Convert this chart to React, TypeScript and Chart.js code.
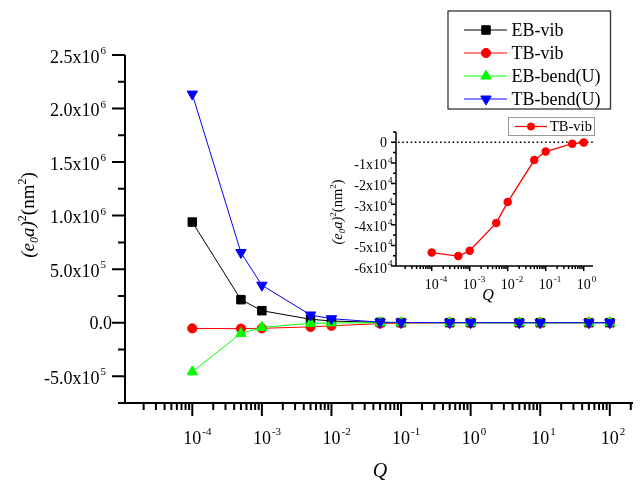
import React, { useEffect, useRef } from 'react';
import { Chart, registerables } from 'chart.js';

Chart.register(...registerables);

const FONT = '"Liberation Serif", "Times New Roman", serif';

// ---------- data ----------
const qValues = [1e-4, 5e-4, 1e-3, 5e-3, 1e-2, 5e-2, 1e-1, 5e-1, 1, 5, 10, 50, 100];
const ebVib = [9.4e5, 2.15e5, 1.12e5, 3.2e4, 1.6e4, 2.5e3, 1.2e3, 300, 150, 30, 15, 3, 1];
const tbVib = [-5.35e4, -5.52e4, -5.26e4, -3.91e4, -2.9e4, -8.6e3, -4.5e3, -700, -150, -30, -15, -3, -1];
const ebBend = [-4.59e5, -1.0e5, -4.4e4, -6e3, -2.5e3, -300, -150, -30, -15, -3, -1.5, -0.3, -0.1];
const tbBend = [2.135e6, 6.55e5, 3.5e5, 7.2e4, 3.7e4, 5e3, 2.5e3, 400, 200, 40, 20, 4, 2];

const insetQ = [1e-4, 5e-4, 1e-3, 5e-3, 1e-2, 5e-2, 1e-1, 5e-1, 1];
const insetTbVib = [-5.35e4, -5.52e4, -5.26e4, -3.91e4, -2.9e4, -8.6e3, -4.5e3, -700, -150];

const seriesLabels = ['EB-vib', 'TB-vib', 'EB-bend(U)', 'TB-bend(U)'];

const mainYMajor = [-5e5, 0, 5e5, 1e6, 1.5e6, 2e6, 2.5e6];
const mainYLabels = ['-5.0x10^5', '0.0', '5.0x10^5', '1.0x10^6', '1.5x10^6', '2.0x10^6', '2.5x10^6'];
const mainYMinor = [-7.5e5, -2.5e5, 2.5e5, 7.5e5, 1.25e6, 1.75e6, 2.25e6];
const mainXMajor = [1e-4, 1e-3, 1e-2, 1e-1, 1, 10, 100];
const mainXLabels = ['10^-4', '10^-3', '10^-2', '10^-1', '10^0', '10^1', '10^2'];

const insetYMajor = [0, -1e4, -2e4, -3e4, -4e4, -5e4, -6e4];
const insetYLabels = ['0', '-1x10^4', '-2x10^4', '-3x10^4', '-4x10^4', '-5x10^4', '-6x10^4'];
const insetYMinor = [5e3, -5e3, -1.5e4, -2.5e4, -3.5e4, -4.5e4, -5.5e4];
const insetXMajor = [1e-4, 1e-3, 1e-2, 1e-1, 1];
const insetXLabels = ['10^-4', '10^-3', '10^-2', '10^-1', '10^0'];

type Seg = { t: string; it?: boolean; sup?: boolean; sub?: boolean };
const yTitleSegs: Seg[] = [
  { t: '(e', it: true },
  { t: '0', it: true, sub: true },
  { t: 'a)', it: true },
  { t: '2', sup: true },
  { t: '(nm' },
  { t: '2', sup: true },
  { t: ')' },
];
const xTitle = 'Q';

// ---------- helpers ----------
function parseLabel(s: string): [string, string] {
  const i = s.indexOf('^');
  return i < 0 ? [s, ''] : [s.slice(0, i), s.slice(i + 1)];
}

function drawSupLabel(ctx: CanvasRenderingContext2D, text: string, x: number, baseline: number, size: number, align: string) {
  const [base, exp] = parseLabel(text);
  const es = Math.round(size * 0.62);
  ctx.font = `${size}px ${FONT}`;
  const bw = ctx.measureText(base).width;
  ctx.font = `${es}px ${FONT}`;
  const ew = exp ? ctx.measureText(exp).width + 1 : 0;
  const bx = align === 'right' ? x - bw - ew : align === 'baseRight' ? x - bw : x - bw / 2;
  ctx.textAlign = 'left';
  ctx.textBaseline = 'alphabetic';
  ctx.font = `${size}px ${FONT}`;
  ctx.fillText(base, bx, baseline);
  if (exp) {
    ctx.font = `${es}px ${FONT}`;
    ctx.fillText(exp, bx + bw + 1, baseline - size * 0.47);
  }
}

function drawRich(ctx: CanvasRenderingContext2D, segs: Seg[], cx: number, cy: number, size: number, rotate: boolean) {
  const fontOf = (s: Seg) => `${s.it ? 'italic ' : ''}${s.sup || s.sub ? Math.round(size * 0.62) : size}px ${FONT}`;
  let total = 0;
  const widths = segs.map((s) => {
    ctx.font = fontOf(s);
    const w = ctx.measureText(s.t).width;
    total += w;
    return w;
  });
  ctx.save();
  ctx.translate(cx, cy);
  if (rotate) ctx.rotate(-Math.PI / 2);
  ctx.textAlign = 'left';
  ctx.textBaseline = 'alphabetic';
  let u = -total / 2;
  const base = size * 0.3;
  segs.forEach((s, i) => {
    ctx.font = fontOf(s);
    const dy = s.sup ? -size * 0.42 : s.sub ? size * 0.2 : 0;
    ctx.fillText(s.t, u, base + dy);
    u += widths[i];
  });
  ctx.restore();
}

function marker(ctx: CanvasRenderingContext2D, style: string, x: number, y: number, r: number, color: string, rot: number) {
  ctx.fillStyle = color;
  ctx.strokeStyle = color;
  ctx.lineWidth = 1;
  ctx.beginPath();
  if (style === 'rect') {
    const s = r * Math.SQRT1_2;
    ctx.rect(x - s, y - s, 2 * s, 2 * s);
  } else if (style === 'circle') {
    ctx.arc(x, y, r, 0, Math.PI * 2);
  } else {
    const d = rot === 180 ? -1 : 1;
    ctx.moveTo(x, y - d * r);
    ctx.lineTo(x + r * 0.866, y + d * r * 0.5);
    ctx.lineTo(x - r * 0.866, y + d * r * 0.5);
    ctx.closePath();
  }
  ctx.fill();
  ctx.stroke();
}

function logTicks(min: number, max: number) {
  const out: { v: number; major: boolean }[] = [];
  for (let e = Math.floor(Math.log10(min)); e <= Math.ceil(Math.log10(max)); e++) {
    for (let k = 1; k <= 9; k++) {
      const v = k * Math.pow(10, e);
      if (v >= min * 0.9999 && v <= max * 1.0001) out.push({ v, major: k === 1 });
    }
  }
  return out;
}

type AxesCfg = {
  lw: number; majorLen: number; minorLen: number;
  yMajor: number[]; yLabels: string[]; yMinor: number[];
  xMajor: number[]; xLabels: string[];
  fontSize: number; yLabelX: (hasExp: boolean) => number; yAlign: string;
  yBaseOff: (hasExp: boolean) => number; xBaseOff: number;
  titleSize: number; yTitleX: number; yTitleY: number; xTitleX: number; xTitleY: number; qSize: number;
};

function axesPlugin(id: string, c: AxesCfg) {
  return {
    id,
    afterDraw(chart: any) {
      const { ctx, chartArea: a, scales } = chart;
      const xs = scales.x;
      const ys = scales.y;
      ctx.save();
      ctx.strokeStyle = '#000';
      ctx.fillStyle = '#000';
      ctx.lineWidth = c.lw;
      ctx.beginPath();
      ctx.moveTo(a.left, a.top);
      ctx.lineTo(a.left, a.bottom + c.lw / 2);
      ctx.moveTo(a.left - c.lw / 2, a.bottom);
      ctx.lineTo(a.right, a.bottom);
      // y ticks
      c.yMajor.forEach((v) => {
        const p = ys.getPixelForValue(v);
        ctx.moveTo(a.left, p);
        ctx.lineTo(a.left - c.majorLen, p);
      });
      c.yMinor.forEach((v) => {
        const p = ys.getPixelForValue(v);
        ctx.moveTo(a.left, p);
        ctx.lineTo(a.left - c.minorLen, p);
      });
      // x ticks
      logTicks(xs.min, xs.max).forEach((t) => {
        const p = xs.getPixelForValue(t.v);
        ctx.moveTo(p, a.bottom);
        ctx.lineTo(p, a.bottom + (t.major ? c.majorLen : c.minorLen));
      });
      ctx.stroke();
      // labels
      c.yMajor.forEach((v, i) => {
        const p = ys.getPixelForValue(v);
        const hasExp = c.yLabels[i].includes('^');
        drawSupLabel(ctx, c.yLabels[i], c.yLabelX(hasExp), p + c.yBaseOff(hasExp), c.fontSize, c.yAlign);
      });
      c.xMajor.forEach((v, i) => {
        const p = xs.getPixelForValue(v);
        drawSupLabel(ctx, c.xLabels[i], p, a.bottom + c.xBaseOff, c.fontSize, 'baseCenter');
      });
      // titles
      drawRich(ctx, yTitleSegs, c.yTitleX, c.yTitleY, c.titleSize, true);
      ctx.font = `italic ${c.qSize}px ${FONT}`;
      ctx.textAlign = 'center';
      ctx.textBaseline = 'middle';
      ctx.fillText(xTitle, c.xTitleX, c.xTitleY);
      ctx.restore();
    },
  };
}

const mainLegend = {
  id: 'mainLegend',
  afterDraw(chart: any) {
    const ctx = chart.ctx as CanvasRenderingContext2D;
    ctx.save();
    ctx.strokeStyle = '#333';
    ctx.lineWidth = 1.3;
    ctx.strokeRect(448, 11, 162.5, 98);
    chart.data.datasets.forEach((ds: any, i: number) => {
      const y = 30 + i * 23;
      ctx.strokeStyle = ds.borderColor;
      ctx.lineWidth = 1;
      ctx.beginPath();
      ctx.moveTo(464, y);
      ctx.lineTo(507, y);
      ctx.stroke();
      marker(ctx, ds.pointStyle, 486, y, ds.pointRadius, ds.borderColor, ds.pointRotation || 0);
      ctx.fillStyle = '#000';
      ctx.font = `18px ${FONT}`;
      ctx.textAlign = 'left';
      ctx.textBaseline = 'middle';
      ctx.fillText(ds.label, 511.5, y + 1);
    });
    ctx.restore();
  },
};

const insetExtras = {
  id: 'insetExtras',
  beforeDatasetsDraw(chart: any) {
    const { ctx, chartArea: a, scales } = chart;
    const p = scales.y.getPixelForValue(0);
    ctx.save();
    ctx.strokeStyle = '#000';
    ctx.lineWidth = 1.6;
    ctx.setLineDash([1.6, 2.6]);
    ctx.beginPath();
    ctx.moveTo(a.left + 2, p);
    ctx.lineTo(a.right + 2, p);
    ctx.stroke();
    ctx.restore();
  },
  afterDraw(chart: any) {
    const ctx = chart.ctx as CanvasRenderingContext2D;
    const ds = chart.data.datasets[0];
    ctx.save();
    ctx.fillStyle = '#fff';
    ctx.strokeStyle = '#999';
    ctx.lineWidth = 1;
    ctx.fillRect(508, 117.5, 86, 18);
    ctx.strokeRect(508.5, 117.5, 86, 18);
    ctx.strokeStyle = ds.borderColor;
    ctx.lineWidth = 1.2;
    ctx.beginPath();
    ctx.moveTo(515, 126.5);
    ctx.lineTo(547, 126.5);
    ctx.stroke();
    marker(ctx, 'circle', 531, 126.5, ds.pointRadius, ds.borderColor, 0);
    ctx.fillStyle = '#000';
    ctx.font = `14.5px ${FONT}`;
    ctx.textAlign = 'left';
    ctx.textBaseline = 'middle';
    ctx.fillText(ds.label, 550, 127);
    ctx.restore();
  },
};

const toPts = (xs: number[], ys: number[]) => xs.map((x, i) => ({ x, y: ys[i] }));

export default function App() {
  const mainRef = useRef<HTMLCanvasElement>(null);
  const insetRef = useRef<HTMLCanvasElement>(null);

  useEffect(() => {
    const colors = ['#000000', '#ff0000', '#00ff00', '#0000ff'];
    const styles = ['rect', 'circle', 'triangle', 'triangle'];
    const radii = [6, 4.6, 6, 6];
    const rots = [0, 0, 0, 180];
    const values = [ebVib, tbVib, ebBend, tbBend];
    const main = new Chart(mainRef.current as HTMLCanvasElement, {
      type: 'line',
      data: {
        datasets: values.map((vals, i) => ({
          label: seriesLabels[i],
          data: toPts(qValues, vals),
          borderColor: colors[i],
          backgroundColor: colors[i],
          pointBackgroundColor: colors[i],
          pointBorderColor: colors[i],
          pointStyle: styles[i],
          pointRadius: radii[i],
          pointRotation: rots[i],
          pointBorderWidth: 1,
          borderWidth: 1,
          tension: 0,
          order: 3 - i,
        })),
      } as any,
      options: {
        animation: false,
        responsive: false,
        events: [],
        layout: { padding: { top: 55, right: 4, left: 0, bottom: 0 } },
        plugins: { legend: { display: false }, tooltip: { enabled: false } },
        scales: {
          x: {
            type: 'logarithmic',
            min: Math.pow(10, -4.967),
            max: Math.pow(10, 2.333),
            grid: { display: false },
            border: { display: false },
            ticks: { display: false },
            afterFit: (s: any) => { s.height = 83; },
          },
          y: {
            type: 'linear',
            min: -7.5e5,
            max: 2.5e6,
            grid: { display: false },
            border: { display: false },
            ticks: { display: false },
            afterFit: (s: any) => { s.width = 125; },
          },
        },
      } as any,
      plugins: [
        axesPlugin('mainAxes', {
          lw: 2, majorLen: 13, minorLen: 7,
          yMajor: mainYMajor, yLabels: mainYLabels, yMinor: mainYMinor,
          xMajor: mainXMajor, xLabels: mainXLabels,
          fontSize: 18,
          yLabelX: (h) => (h ? 106 : 112),
          yAlign: 'right',
          yBaseOff: (h) => (h ? 7.5 : 6),
          xBaseOff: 40.5,
          titleSize: 19, yTitleX: 28, yTitleY: 215,
          xTitleX: 380, xTitleY: 472, qSize: 20,
        }),
        mainLegend,
      ],
    });

    const inset = new Chart(insetRef.current as HTMLCanvasElement, {
      type: 'line',
      data: {
        datasets: [{
          label: 'TB-vib',
          data: toPts(insetQ, insetTbVib),
          borderColor: '#ff0000',
          backgroundColor: '#ff0000',
          pointBackgroundColor: '#ff0000',
          pointBorderColor: '#ff0000',
          pointStyle: 'circle',
          pointRadius: 3.6,
          borderWidth: 1.3,
          tension: 0,
        }],
      } as any,
      options: {
        animation: false,
        responsive: false,
        events: [],
        layout: { padding: { top: 132, right: 47, left: 0, bottom: 0 } },
        plugins: { legend: { display: false }, tooltip: { enabled: false } },
        scales: {
          x: {
            type: 'logarithmic',
            min: Math.pow(10, -4.94),
            max: Math.pow(10, 0.245),
            grid: { display: false },
            border: { display: false },
            ticks: { display: false },
            afterFit: (s: any) => { s.height = 220; },
          },
          y: {
            type: 'linear',
            min: -6e4,
            max: 5e3,
            grid: { display: false },
            border: { display: false },
            ticks: { display: false },
            afterFit: (s: any) => { s.width = 396; },
          },
        },
      } as any,
      plugins: [
        insetExtras,
        axesPlugin('insetAxes', {
          lw: 1.5, majorLen: 5, minorLen: 3,
          yMajor: insetYMajor, yLabels: insetYLabels, yMinor: insetYMinor,
          xMajor: insetXMajor, xLabels: insetXLabels,
          fontSize: 14,
          yLabelX: () => 387,
          yAlign: 'baseRight',
          yBaseOff: (h) => (h ? 6.5 : 5),
          xBaseOff: 22.5,
          titleSize: 14.5, yTitleX: 338, yTitleY: 212,
          xTitleX: 488, xTitleY: 296, qSize: 16,
        }),
      ],
    });

    return () => {
      main.destroy();
      inset.destroy();
    };
  }, []);

  return (
    <div style={{ position: 'fixed', left: 0, top: 0, width: 640, height: 486, background: '#fff' }}>
      <canvas ref={mainRef} width={640} height={486} style={{ position: 'absolute', left: 0, top: 0, display: 'block' }} />
      <canvas ref={insetRef} width={640} height={486} style={{ position: 'absolute', left: 0, top: 0, display: 'block' }} />
    </div>
  );
}
